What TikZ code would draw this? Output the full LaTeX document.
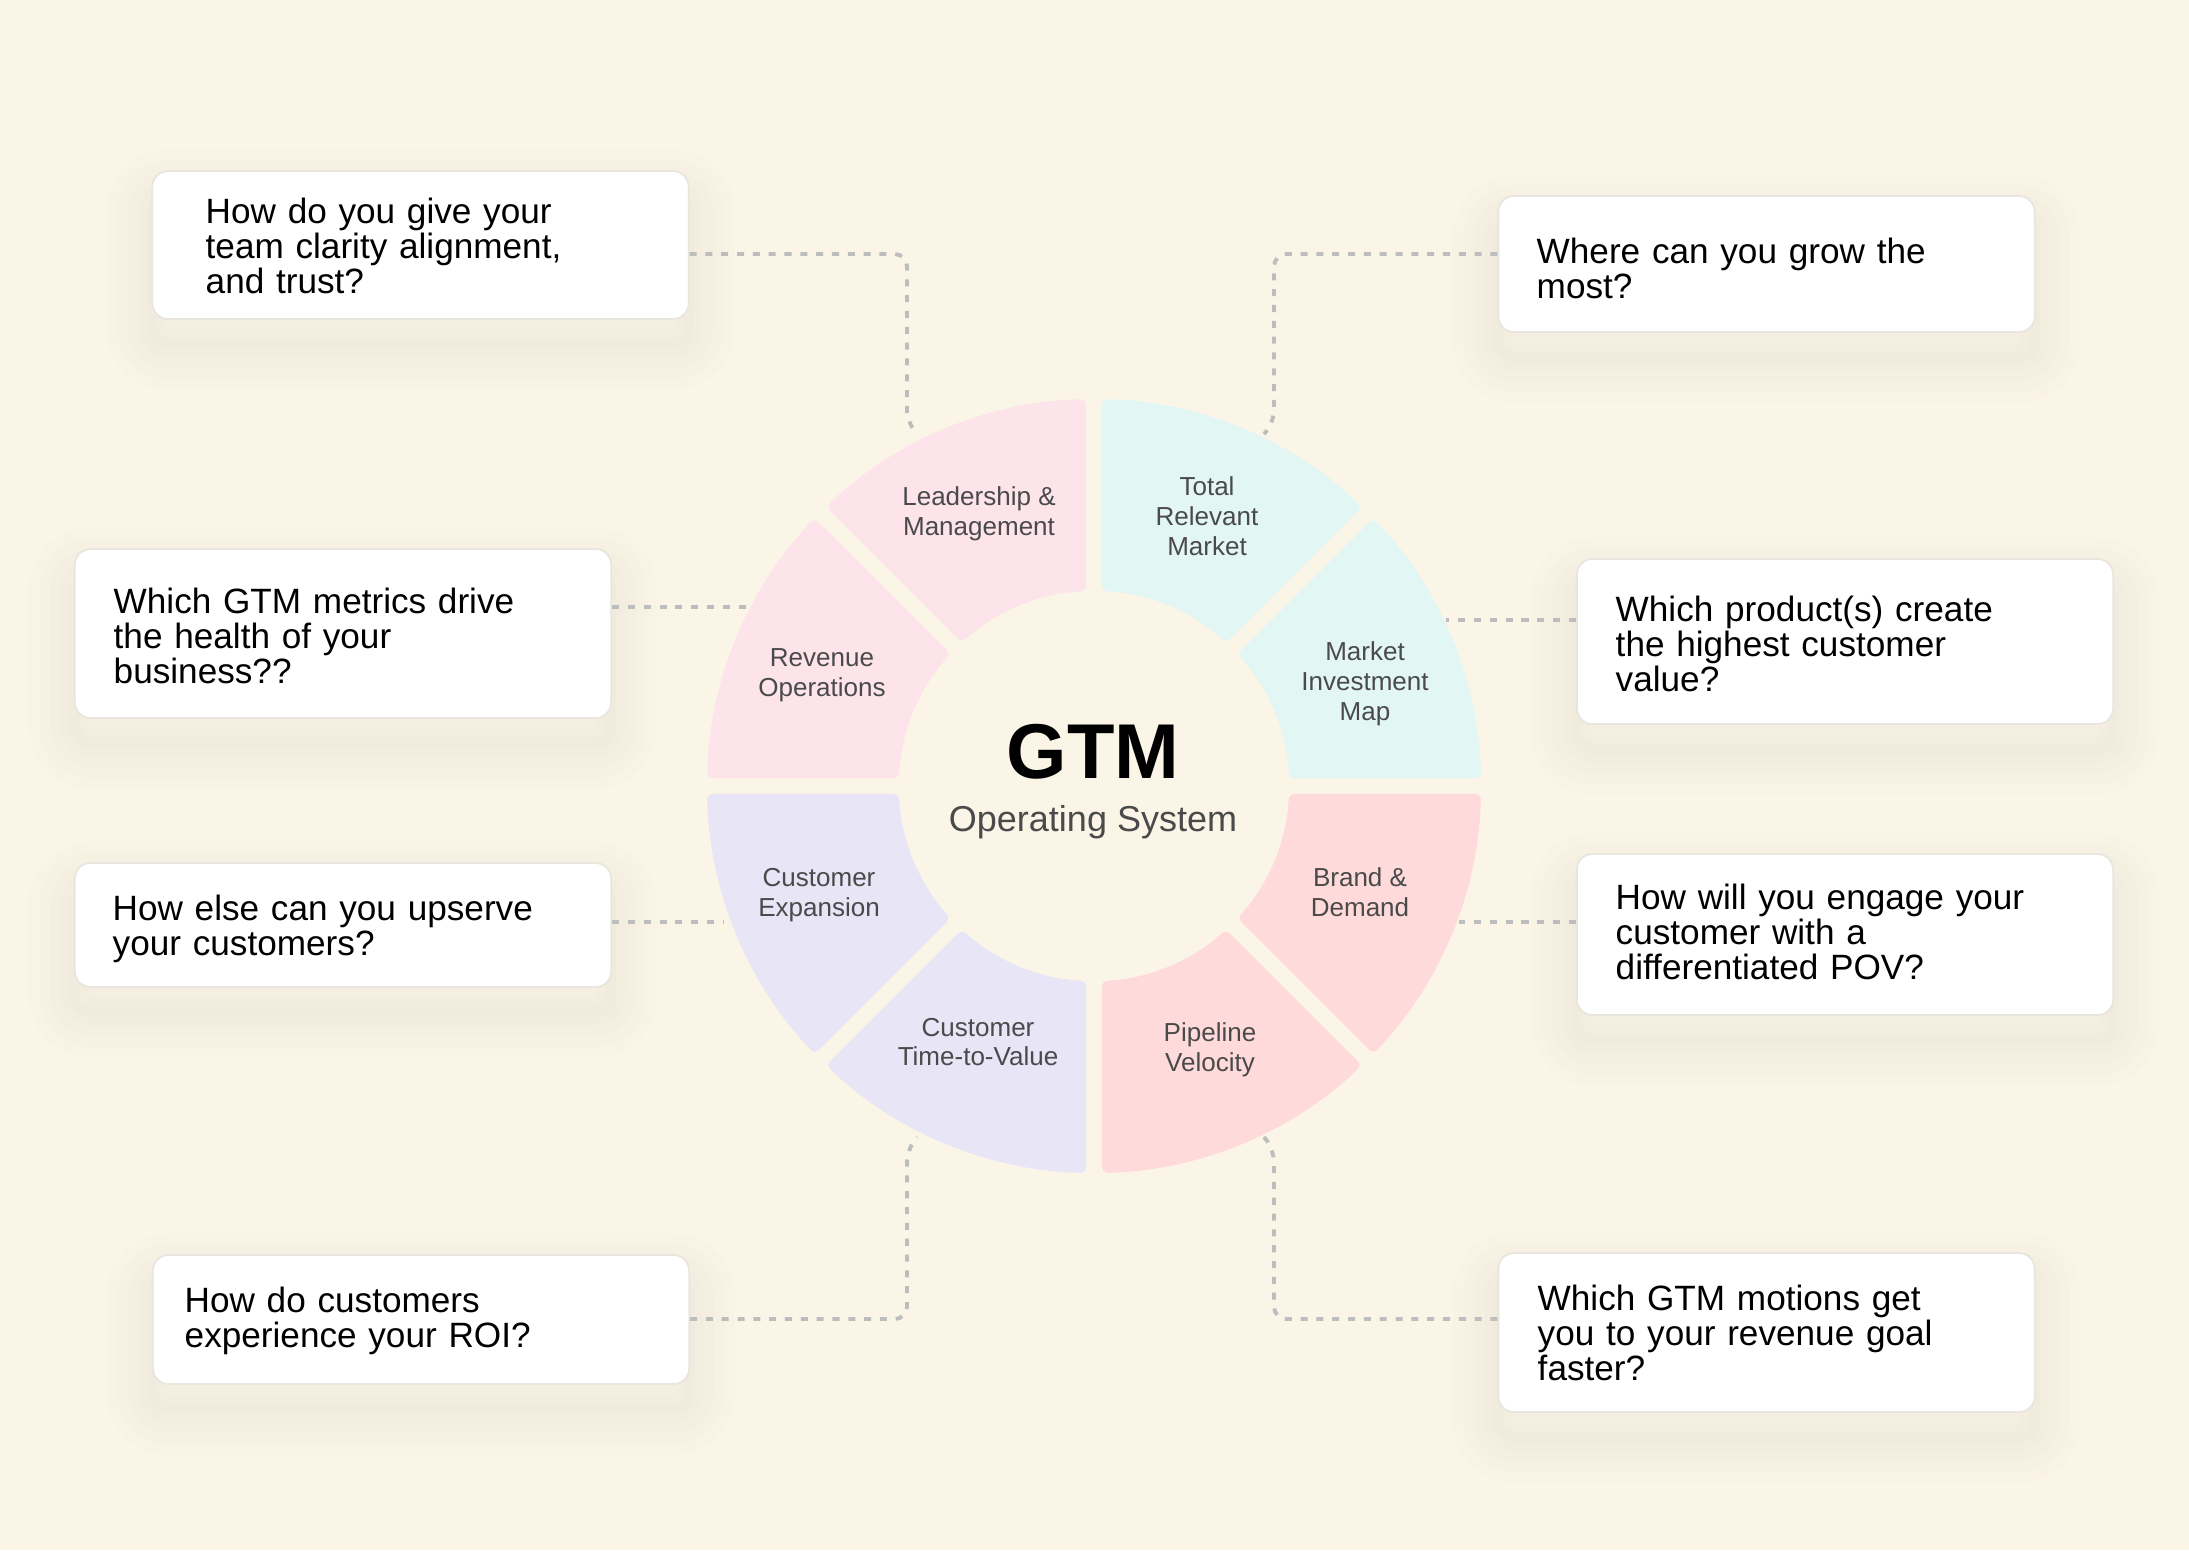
\documentclass[tikz,border=0pt]{standalone}
\usepackage{fontspec}
\setmainfont{Liberation Sans}
\usetikzlibrary{calc}

\definecolor{bgcream}{HTML}{FBF5E8}
\definecolor{segpink}{HTML}{FDE4EA}
\definecolor{segcyan}{HTML}{E2F6F3}
\definecolor{segrose}{HTML}{FEDADA}
\definecolor{seglilac}{HTML}{E7E5F6}
\definecolor{linkgray}{HTML}{BDBDBD}
\definecolor{boxline}{HTML}{E9E5DF}
\definecolor{shadetone}{HTML}{E6DCC8}
\definecolor{labelgray}{HTML}{4A4A4A}

\begin{document}
\begin{tikzpicture}[x=0.01cm, y=-0.01cm, line cap=round, line join=round,
	qbox/.style={fill=white, draw=boxline, line width=0.5pt, rounded corners=4.5pt,
		minimum width=5.36cm, inner sep=0pt,
		preaction={draw=shadetone, draw opacity=0.05, line width=26pt, transform canvas={yshift=-7pt}},
		preaction={draw=shadetone, draw opacity=0.06, line width=20pt, transform canvas={yshift=-7pt}},
		preaction={draw=shadetone, draw opacity=0.07, line width=14pt, transform canvas={yshift=-7pt}},
		preaction={draw=shadetone, draw opacity=0.08, line width=8pt, transform canvas={yshift=-7pt}},
		preaction={draw=shadetone, draw opacity=0.08, line width=3pt, transform canvas={yshift=-7pt}}},
	qtext/.style={anchor=base west, inner sep=0pt, text width=4.8cm, align=left,
		font=\fontsize{10pt}{9.96pt}\selectfont},
	seglabel/.style={align=center, inner sep=0pt, text=labelgray,
		font=\fontsize{7.4pt}{8.5pt}\selectfont},
	link/.style={draw=linkgray, line width=1.1pt, line cap=butt,
		dash pattern=on 2pt off 2.5pt, rounded corners=3.5pt}]
	
	% fond
	\fill[bgcream] (0,0) rectangle (2189,1550);
	\useasboundingbox (0,0) rectangle (2189,1550);
	
	% ----------------------------------------------------
	% anneau des 8 segments
	% ----------------------------------------------------
	\begin{scope}[shift={(1094,786)}, yscale=-1]
		\foreach \a/\c in {0/segcyan, 45/segcyan, 90/segpink, 135/segpink,
			180/seglilac, 225/seglilac, 270/segrose, 315/segrose}
		\fill[\c, rounded corners=1.5pt] ({\a+1.18}:387) arc[start angle=\a+1.18, end angle=\a+43.82, radius=387]
			-- ({\a+42.66}:195) arc[start angle=\a+42.66, end angle=\a+2.34, radius=195] -- cycle;
	\end{scope}
	
	% textes des segments
	\node[seglabel] (lead) at (979,514) {Leadership \&\\Management};
	\node[seglabel] (trm) at (1207,516) {Total\\Relevant\\Market};
	\node[seglabel] (revops) at (822,675) {Revenue\\Operations};
	\node[seglabel] (mim) at (1365,684) {Market\\Investment\\Map};
	\node[seglabel] (cexp) at (819,895) {Customer\\Expansion};
	\node[seglabel] (brand) at (1360,892) {Brand \&\\Demand};
	\node[seglabel] (ttv) at (978,1042) {Customer\\Time-to-Value};
	\node[seglabel] (pipe) at (1210,1050) {Pipeline\\Velocity};
	
	% centre
	\node[anchor=base, inner sep=0pt, font=\fontsize{22.1pt}{24pt}\selectfont\bfseries] (gtm) at (1093,778) {GTM};
	\node[anchor=base, inner sep=0pt, text=labelgray, font=\fontsize{10.24pt}{12pt}\selectfont] (os) at (1093,831) {Operating System};
	
	% ----------------------------------------------------
	% points d'accroche des liens
	% ----------------------------------------------------
	\coordinate (k1) at (907,254);  \coordinate (h1) at (907,422);  \coordinate (e1) at (917,434);
	\coordinate (k2) at (1274,254); \coordinate (h2) at (1274,422); \coordinate (e2) at (1264,434);
	\coordinate (e3) at (747,607);
	\coordinate (e4) at (1446,620);
	\coordinate (e5) at (724,922);
	\coordinate (e6) at (1459,922);
	\coordinate (k7) at (907,1319); \coordinate (h7) at (907,1150); \coordinate (e7) at (917,1137);
	\coordinate (k8) at (1274,1319); \coordinate (h8) at (1274,1150); \coordinate (e8) at (1264,1137);
	
	% ----------------------------------------------------
	% boites de questions
	% ----------------------------------------------------
	\node[qbox, minimum height=1.48cm] (b1) at (420.5,245) {};
	\node[qbox, minimum height=1.36cm] (b2) at (1766.5,264) {};
	\node[qbox, minimum height=1.69cm] (b3) at (343,633.5) {};
	\node[qbox, minimum height=1.65cm] (b4) at (1845,641.5) {};
	\node[qbox, minimum height=1.24cm] (b5) at (343,925) {};
	\node[qbox, minimum height=1.61cm] (b6) at (1845,934.5) {};
	\node[qbox, minimum height=1.29cm] (b7) at (421,1319.5) {};
	\node[qbox, minimum height=1.59cm] (b8) at (1766.5,1332.5) {};
	
	% liens pointilles
	\draw[link] (b1.east |- k1) -- (k1) -- (h1) -- (e1);
	\draw[link] (b2.west |- k2) -- (k2) -- (h2) -- (e2);
	\draw[link] (b3.east |- e3) -- (e3);
	\draw[link] (b4.west |- e4) -- (e4);
	\draw[link] (b5.east |- e5) -- (e5);
	\draw[link] (b6.west |- e6) -- (e6);
	\draw[link] (b7.east |- k7) -- (k7) -- (h7) -- (e7);
	\draw[link] (b8.west |- k8) -- (k8) -- (h8) -- (e8);
	
	% textes des boites
	\node[qtext] (t1) at (205,223) {How do you give your\\team clarity alignment,\\and trust?};
	\node[qtext] (t2) at (1536,263) {Where can you grow the\\most?};
	\node[qtext] (t3) at (113,613) {Which GTM metrics drive\\the health of your\\business??};
	\node[qtext] (t4) at (1615,621) {Which product(s) create\\the highest customer\\value?};
	\node[qtext] (t5) at (112,920) {How else can you upserve\\your customers?};
	\node[qtext] (t6) at (1615,909) {How will you engage your\\customer with a\\differentiated POV?};
	\node[qtext] (t7) at (184,1312) {How do customers\\experience your ROI?};
	\node[qtext] (t8) at (1537,1310) {Which GTM motions get\\you to your revenue goal\\faster?};
	
\end{tikzpicture}
\end{document}
